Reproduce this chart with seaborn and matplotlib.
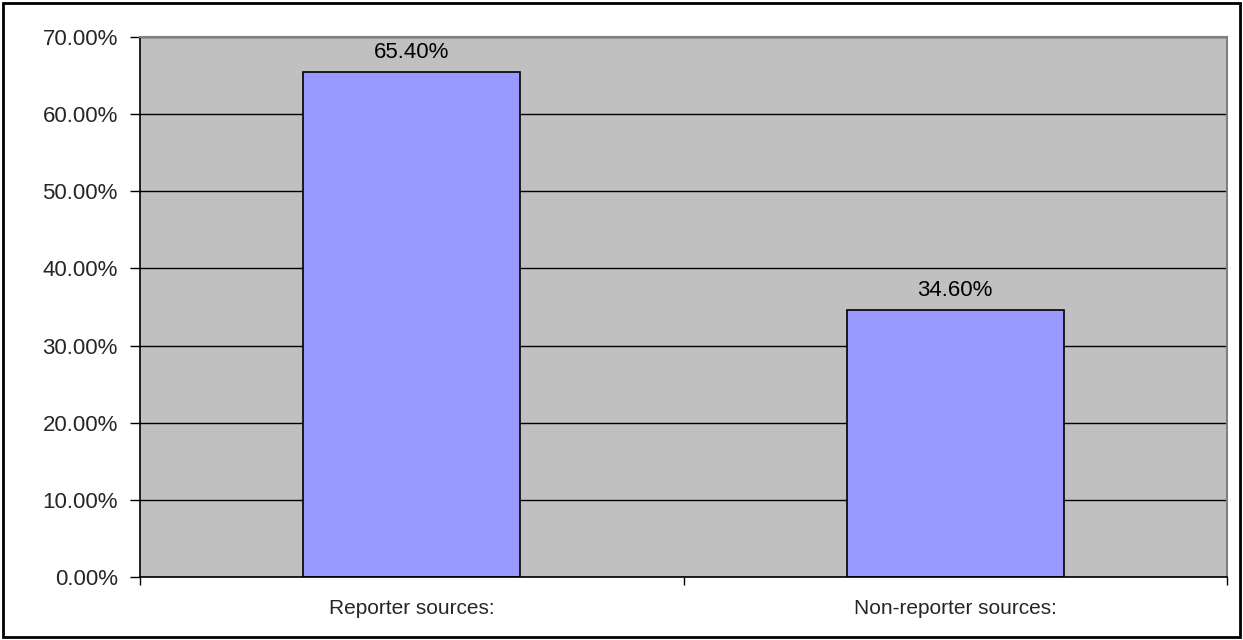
import matplotlib
matplotlib.use("Agg")
import matplotlib.pyplot as plt
import seaborn as sns
import pandas as pd
from matplotlib.ticker import FixedLocator, PercentFormatter
from matplotlib.patches import Rectangle

# Data
categories = ["Reporter sources:", "Non-reporter sources:"]
shares = [65.40, 34.60]
y_ticks = [0, 10, 20, 30, 40, 50, 60, 70]

data = pd.DataFrame({"category": categories, "share": shares})

sns.set_style("white")
plt.rcParams["font.family"] = ["Liberation Sans", "DejaVu Sans"]

fig = plt.figure(figsize=(12.43, 6.4), dpi=100)
ax = fig.add_axes([140 / 1243, 1 - 577 / 640, 1087 / 1243, 540 / 640])
ax.set_facecolor("#C0C0C0")

sns.barplot(data=data, x="category", y="share", color="#9999FF",
            saturation=1, width=0.4, edgecolor="black", linewidth=1.2, ax=ax)

# value labels above the bars
for bar, val in zip(ax.patches, shares):
    ax.text(bar.get_x() + bar.get_width() / 2, val + 1.2, f"{val:.2f}%",
            ha="center", va="bottom", fontsize=16, color="black")

ax.set_xlim(-0.5, 1.5)
ax.set_ylim(0, 70)
ax.set_yticks(y_ticks)
ax.yaxis.set_major_formatter(PercentFormatter(decimals=2))
ax.grid(axis="y", color="black", linewidth=1.0)
ax.set_axisbelow(True)

# ticks between categories, labels without tick marks
ax.xaxis.set_minor_locator(FixedLocator([-0.5, 0.5, 1.5]))
ax.tick_params(axis="x", which="major", length=0, pad=16, labelsize=15)
ax.tick_params(axis="x", which="minor", length=6, width=1, color="black", direction="out")
ax.tick_params(axis="y", length=7, width=1, color="black", direction="out", pad=9, labelsize=16)
ax.tick_params(axis="y", which="both", left=True)
ax.tick_params(axis="x", which="minor", bottom=True)

ax.set_xlabel("")
ax.set_ylabel("")

for side in ["left", "bottom"]:
    ax.spines[side].set_color("black")
    ax.spines[side].set_linewidth(1.2)
for side in ["top", "right"]:
    ax.spines[side].set_visible(True)
    ax.spines[side].set_color("#808080")
    ax.spines[side].set_linewidth(1.5)

# outer border of the chart
fig.patches.append(Rectangle((3 / 1243, 3 / 640), 1237 / 1243, 634 / 640,
                             transform=fig.transFigure, fill=False,
                             edgecolor="black", linewidth=2))

fig.savefig("out.png", dpi=100)
